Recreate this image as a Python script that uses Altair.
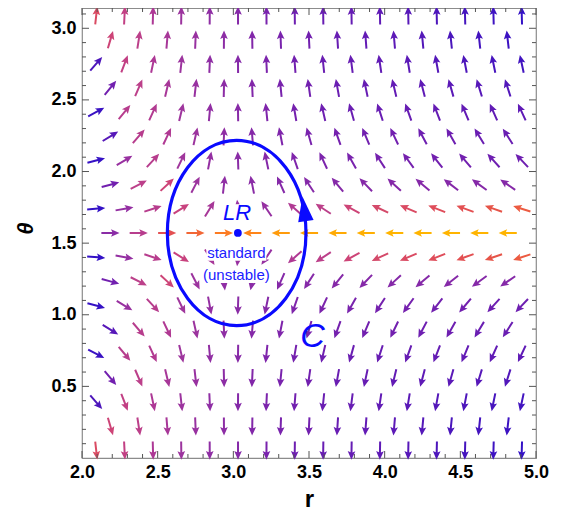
import altair as alt
import pandas as pd

# ---------------- data ----------------
# arrow columns (r) for rows with 16 arrows and for the staggered rows with 15 arrows
R_EVEN = [2.094, 2.281, 2.469, 2.656, 2.844, 3.031, 3.219, 3.406,
          3.594, 3.781, 3.969, 4.156, 4.344, 4.531, 4.719, 4.906]
R_ODD = [2.188, 2.375, 2.563, 2.750, 2.938, 3.125, 3.313, 3.500,
         3.688, 3.875, 4.063, 4.250, 4.438, 4.625, 4.813]

# arrow rows (theta), bottom to top
THETA_ROWS = [0.052, 0.220, 0.389, 0.558, 0.727, 0.896, 1.064, 1.233, 1.402, 1.571,
              1.740, 1.908, 2.077, 2.246, 2.415, 2.584, 2.752, 2.921, 3.090]

# arrow direction in degrees (counter-clockwise from +r), bottom row first
ANGLE_ROWS = [
    [-83.7, -87.2, -88.5, -89.2, -89.7, -90.0, -90.3, -90.6, -90.8, -90.9, -91.1, -91.2, -91.3, -91.4, -91.5, -91.6],
    [-73.6, -81.2, -85.2, -87.7, -89.5, -90.9, -92.0, -92.9, -93.7, -94.3, -94.9, -95.4, -95.8, -96.2, -96.5],
    [-48.9, -69.0, -78.1, -83.7, -87.5, -90.4, -92.7, -94.5, -96.0, -97.3, -98.4, -99.3, -100.2, -100.9, -101.6, -102.1],
    [-50.6, -66.7, -76.7, -83.6, -88.6, -92.5, -95.6, -98.1, -100.2, -101.9, -103.4, -104.7, -105.8, -106.9, -107.7],
    [-27.8, -50.2, -65.4, -76.4, -84.7, -90.9, -95.9, -99.8, -103.0, -105.6, -107.8, -109.7, -111.3, -112.7, -114.0, -115.1],
    [-31.3, -49.3, -64.7, -77.3, -87.2, -94.9, -101.0, -105.8, -109.7, -112.8, -115.5, -117.7, -119.5, -121.2, -122.6],
    [-14.6, -30.7, -47.2, -64.0, -79.3, -91.9, -101.7, -109.2, -114.9, -119.4, -123.0, -125.9, -128.3, -130.3, -132.0, -133.4],
    [-14.9, -27.0, -42.9, -62.7, -83.7, -101.2, -114.0, -122.9, -129.2, -133.9, -137.4, -140.1, -142.3, -144.1, -145.6],
    [-4.6, -10.3, -18.4, -32.2, -58.4, -96.1, -124.0, -138.5, -146.6, -151.4, -154.7, -157.0, -158.7, -160.1, -161.1, -162.0],
    [0, 0, 0, 0, 0, 180, 180, 180, 180, 180, 180, 180, 180, 180, 180],
    [4.6, 10.3, 18.4, 32.2, 58.4, 96.1, 124.0, 138.5, 146.6, 151.4, 154.7, 157.0, 158.7, 160.1, 161.1, 162.0],
    [14.9, 27.0, 42.9, 62.7, 83.7, 101.2, 114.0, 122.9, 129.2, 133.9, 137.4, 140.1, 142.3, 144.1, 145.6],
    [14.6, 30.7, 47.2, 64.0, 79.3, 91.9, 101.7, 109.2, 114.9, 119.4, 123.0, 125.9, 128.3, 130.3, 132.0, 133.4],
    [31.3, 49.3, 64.7, 77.3, 87.2, 94.9, 101.0, 105.8, 109.7, 112.8, 115.5, 117.7, 119.5, 121.2, 122.6],
    [27.8, 50.2, 65.4, 76.4, 84.7, 90.9, 95.9, 99.8, 103.0, 105.6, 107.8, 109.7, 111.3, 112.7, 114.0, 115.1],
    [50.6, 66.7, 76.7, 83.6, 88.6, 92.5, 95.6, 98.1, 100.2, 101.9, 103.4, 104.7, 105.8, 106.9, 107.7],
    [48.9, 69.0, 78.1, 83.7, 87.5, 90.4, 92.7, 94.5, 96.0, 97.3, 98.4, 99.3, 100.2, 100.9, 101.6, 102.1],
    [73.6, 81.2, 85.2, 87.7, 89.5, 90.9, 92.0, 92.9, 93.7, 94.3, 94.9, 95.4, 95.8, 96.2, 96.5],
    [83.7, 87.2, 88.5, 89.2, 89.7, 90.0, 90.3, 90.6, 90.8, 90.9, 91.1, 91.2, 91.3, 91.4, 91.5, 91.6],
]

# arrow colour shade (0 = dark blue ... 1 = yellow-orange), bottom row first
SHADE_ROWS = [
    [0.72, 0.62, 0.54, 0.48, 0.42, 0.38, 0.34, 0.31, 0.29, 0.27, 0.24, 0.20, 0.16, 0.12, 0.08, 0.03],
    [0.66, 0.60, 0.52, 0.46, 0.41, 0.37, 0.34, 0.32, 0.29, 0.26, 0.23, 0.19, 0.15, 0.11, 0.07],
    [0.16, 0.62, 0.54, 0.48, 0.42, 0.38, 0.35, 0.32, 0.30, 0.28, 0.25, 0.22, 0.19, 0.16, 0.13, 0.10],
    [0.32, 0.60, 0.52, 0.46, 0.41, 0.37, 0.34, 0.32, 0.30, 0.28, 0.26, 0.24, 0.22, 0.20, 0.18],
    [0.06, 0.58, 0.56, 0.49, 0.43, 0.39, 0.36, 0.33, 0.31, 0.30, 0.29, 0.28, 0.27, 0.26, 0.25, 0.24],
    [0.20, 0.58, 0.55, 0.48, 0.42, 0.38, 0.36, 0.34, 0.33, 0.32, 0.32, 0.31, 0.31, 0.30, 0.30],
    [0.04, 0.46, 0.58, 0.50, 0.44, 0.40, 0.38, 0.36, 0.35, 0.34, 0.33, 0.33, 0.32, 0.32, 0.31, 0.31],
    [0.32, 0.60, 0.66, 0.48, 0.42, 0.40, 0.38, 0.38, 0.38, 0.38, 0.38, 0.38, 0.38, 0.38, 0.38],
    [0.03, 0.44, 0.58, 0.64, 0.52, 0.46, 0.45, 0.55, 0.60, 0.66, 0.70, 0.72, 0.74, 0.76, 0.78, 0.80],
    [0.40, 0.58, 0.76, 0.83, 0.88, 0.90, 0.95, 0.97, 0.98, 0.99, 1.00, 1.00, 1.00, 1.00, 1.00],
    [0.03, 0.44, 0.58, 0.64, 0.52, 0.46, 0.45, 0.55, 0.60, 0.66, 0.70, 0.72, 0.74, 0.76, 0.78, 0.80],
    [0.32, 0.60, 0.66, 0.48, 0.42, 0.40, 0.38, 0.38, 0.38, 0.38, 0.38, 0.38, 0.38, 0.38, 0.38],
    [0.04, 0.46, 0.58, 0.50, 0.44, 0.40, 0.38, 0.36, 0.35, 0.34, 0.33, 0.33, 0.32, 0.32, 0.31, 0.31],
    [0.20, 0.58, 0.55, 0.48, 0.42, 0.38, 0.36, 0.34, 0.33, 0.32, 0.32, 0.31, 0.31, 0.30, 0.30],
    [0.06, 0.58, 0.56, 0.49, 0.43, 0.39, 0.36, 0.33, 0.31, 0.30, 0.29, 0.28, 0.27, 0.26, 0.25, 0.24],
    [0.32, 0.60, 0.52, 0.46, 0.41, 0.37, 0.34, 0.32, 0.30, 0.28, 0.26, 0.24, 0.22, 0.20, 0.18],
    [0.16, 0.62, 0.54, 0.48, 0.42, 0.38, 0.35, 0.32, 0.30, 0.28, 0.25, 0.22, 0.19, 0.16, 0.13, 0.10],
    [0.66, 0.60, 0.52, 0.46, 0.41, 0.37, 0.34, 0.32, 0.29, 0.26, 0.23, 0.19, 0.15, 0.11, 0.07],
    [0.72, 0.62, 0.54, 0.48, 0.42, 0.38, 0.34, 0.31, 0.29, 0.27, 0.24, 0.20, 0.16, 0.12, 0.08, 0.03],
]

# light ring, contour C and annotations
LR_POINT = {"r": [3.03], "theta": [1.571]}
CONTOUR = {"r": [3.022], "theta": [1.571]}          # centre of contour C
CONTOUR_HALF_AXES = (0.458, 0.647)                   # half-widths in r and theta
CONTOUR_ARROW = {"r": [3.468], "theta": [1.740], "dir": [98.0]}
LR_LABEL = {"r": [3.025], "theta": [1.709], "txt": ["LR"], "w": [30], "h": [18]}
NOTE_LABEL = {"r": [3.02, 3.02], "theta": [1.429, 1.277], "txt": ["standard", "(unstable)"],
              "w": [60, 68], "h": [15, 16]}
C_LABEL = {"r": [3.524], "theta": [0.847], "txt": ["C"]}

X_MAJOR = [2.0, 2.5, 3.0, 3.5, 4.0, 4.5, 5.0]
X_MINOR = [2.1, 2.2, 2.3, 2.4, 2.6, 2.7, 2.8, 2.9, 3.1, 3.2, 3.3, 3.4,
           3.6, 3.7, 3.8, 3.9, 4.1, 4.2, 4.3, 4.4, 4.6, 4.7, 4.8, 4.9]
Y_MAJOR = [0.5, 1.0, 1.5, 2.0, 2.5, 3.0]
Y_MINOR = [0.1, 0.2, 0.3, 0.4, 0.6, 0.7, 0.8, 0.9, 1.1, 1.2, 1.3, 1.4,
           1.6, 1.7, 1.8, 1.9, 2.1, 2.2, 2.3, 2.4, 2.6, 2.7, 2.8, 2.9, 3.1]

# ---------------- layout / style ----------------
W, H = 454, 450
X_DOMAIN = [2.0, 5.0]
Y_DOMAIN = [0.0, 3.14159]
FONT = "Liberation Sans"
BLUE = "#0a0aff"
FRAME = "#8c8c8c"
TICK = "#555555"

SHADE_STOPS = [0.0, 0.15, 0.30, 0.40, 0.50, 0.60, 0.70, 0.78, 0.84, 0.90, 0.96, 1.0]
SHADE_COLORS = ["#2a10c8", "#4a16bc", "#6a1eb2", "#8a2ca6", "#a0369c", "#bc408a",
                "#d44a6a", "#e65448", "#f46a30", "#ff8418", "#ffa008", "#ffb400"]

ARROW_PATH = "M-1,-0.11L0.2,-0.11L0.06,-0.42L1,0L0.06,0.42L0.2,0.11L-1,0.11Z"
HEAD_PATH = "M1,0L-1,-0.62L-1,0.62Z"

xs = alt.Scale(domain=X_DOMAIN, nice=False, zero=False)
ys = alt.Scale(domain=Y_DOMAIN, nice=False, zero=False)

X_AXIS = alt.Axis(
    values=X_MAJOR, format=".1f", labelFont=FONT, labelFontWeight="bold",
    labelFontSize=18, labelColor="black", labelPadding=5, labelFlush=False,
    labelOverlap=False, ticks=False, tickSize=0, domain=False, grid=False,
    titleFont=FONT, titleFontSize=24, titleFontWeight="bold", titleColor="black",
    titleY=48, titleBaseline="alphabetic")
Y_AXIS = alt.Axis(
    values=Y_MAJOR, format=".1f", labelFont=FONT, labelFontWeight="bold",
    labelFontSize=18, labelColor="black", labelPadding=6, labelFlush=False,
    labelOverlap=False, ticks=False, tickSize=0, domain=False, grid=False,
    titleFont=FONT, titleFontSize=22, titleFontWeight="bold", titleFontStyle="italic",
    titleColor="black", titleAngle=270, titleX=-57, titleY=220,
    titleAlign="center", titleBaseline="middle")

# ---------------- build tables ----------------
recs = []
for th, angs, shades in zip(THETA_ROWS, ANGLE_ROWS, SHADE_ROWS):
    rs = R_EVEN if len(angs) == 16 else R_ODD
    for r, a, s in zip(rs, angs, shades):
        recs.append({"r": r, "theta": th, "rot": (-a) % 360, "shade": s})
field = pd.DataFrame(recs)

px_per_r = W / (X_DOMAIN[1] - X_DOMAIN[0])
px_per_t = H / (Y_DOMAIN[1] - Y_DOMAIN[0])
rx_px = CONTOUR_HALF_AXES[0] * px_per_r
ry_px = CONTOUR_HALF_AXES[1] * px_per_t
ratio = rx_px / ry_px
ELLIPSE_PATH = (f"M{-ratio:.4f},0A{ratio:.4f},1,0,1,0,{ratio:.4f},0"
                f"A{ratio:.4f},1,0,1,0,{-ratio:.4f},0Z")
ellipse_size = (2 * ry_px) ** 2

ca = pd.DataFrame(CONTOUR_ARROW)
ca["rot"] = (-ca["dir"]) % 360


def box_table(d):
    """White backing box behind a label (symbol path sized from the label box)."""
    t = pd.DataFrame(d)
    rows = []
    for _, row in t.iterrows():
        s = max(row["w"], row["h"])
        hx, hy = row["w"] / s, row["h"] / s
        rows.append({"r": row["r"], "theta": row["theta"], "size": s * s,
                     "shape": f"M{-hx:.3f},{-hy:.3f}H{hx:.3f}V{hy:.3f}H{-hx:.3f}Z"})
    return pd.DataFrame(rows)


def xenc(f):
    return alt.X(f, type="quantitative", scale=xs, axis=X_AXIS, title="r")


def yenc(f):
    return alt.Y(f, type="quantitative", scale=ys, axis=Y_AXIS, title="θ")


arrows = alt.Chart(field).mark_point(
    shape=ARROW_PATH, filled=True, size=330, opacity=1, strokeWidth=0
).encode(
    x=xenc("r"),
    y=yenc("theta"),
    angle=alt.Angle("rot:Q", scale=None),
    color=alt.Color("shade:Q", scale=alt.Scale(domain=SHADE_STOPS, range=SHADE_COLORS),
                    legend=None),
)

boxes_df = pd.concat([box_table(LR_LABEL), box_table(NOTE_LABEL)], ignore_index=True)
boxes = alt.Chart(boxes_df).mark_point(
    filled=True, opacity=1, strokeWidth=0, color="white"
).encode(x=xenc("r"), y=yenc("theta"),
         shape=alt.Shape("shape:N", scale=None),
         size=alt.Size("size:Q", scale=None))

ellipse = alt.Chart(pd.DataFrame(CONTOUR)).mark_point(
    shape=ELLIPSE_PATH, filled=False, size=ellipse_size, opacity=1,
    strokeWidth=3.2, color=BLUE
).encode(x=xenc("r"), y=yenc("theta"))

ellipse_head = alt.Chart(ca).mark_point(
    shape=HEAD_PATH, filled=True, size=625, opacity=1, strokeWidth=0, color=BLUE
).encode(x=xenc("r"), y=yenc("theta"), angle=alt.Angle("rot:Q", scale=None))

dot = alt.Chart(pd.DataFrame(LR_POINT)).mark_point(
    shape="circle", filled=True, size=60, opacity=1, color=BLUE
).encode(x=xenc("r"), y=yenc("theta"))

lr_text = alt.Chart(pd.DataFrame(LR_LABEL)).mark_text(
    font=FONT, fontSize=22, fontStyle="italic", color=BLUE, baseline="middle", align="center"
).encode(x=xenc("r"), y=yenc("theta"), text="txt:N")

note_text = alt.Chart(pd.DataFrame(NOTE_LABEL)).mark_text(
    font=FONT, fontSize=15, color="#2020ff", baseline="middle", align="center"
).encode(x=xenc("r"), y=yenc("theta"), text="txt:N")

c_text = alt.Chart(pd.DataFrame(C_LABEL)).mark_text(
    font=FONT, fontSize=34, fontStyle="italic", color=BLUE, baseline="middle", align="center"
).encode(x=xenc("r"), y=yenc("theta"), text="txt:N")


def xticks(vals, length):
    d = pd.DataFrame({"v": vals})
    bot = alt.Chart(d).mark_rule(color=TICK, strokeWidth=1).encode(
        x=xenc("v"), y=alt.value(H), y2=alt.value(H - length))
    top = alt.Chart(d).mark_rule(color=TICK, strokeWidth=1).encode(
        x=xenc("v"), y=alt.value(0), y2=alt.value(length))
    return [bot, top]


def yticks(vals, length):
    d = pd.DataFrame({"v": vals})
    left = alt.Chart(d).mark_rule(color=TICK, strokeWidth=1).encode(
        y=yenc("v"), x=alt.value(0), x2=alt.value(length))
    right = alt.Chart(d).mark_rule(color=TICK, strokeWidth=1).encode(
        y=yenc("v"), x=alt.value(W), x2=alt.value(W - length))
    return [left, right]


ticks = xticks(X_MAJOR, 7) + xticks(X_MINOR, 4) + yticks(Y_MAJOR, 7) + yticks(Y_MINOR, 4)

chart = alt.layer(
    arrows, boxes, ellipse, ellipse_head, dot, lr_text, note_text, c_text, *ticks
).properties(
    width=W, height=H,
    padding={"left": 74, "top": 0, "right": 22, "bottom": 55},
    autosize=alt.AutoSizeParams(type="none"),
    background="white",
).configure_view(stroke=FRAME, strokeWidth=1.2)

chart.save("out.html", embed_options={"renderer": "svg", "actions": False})
